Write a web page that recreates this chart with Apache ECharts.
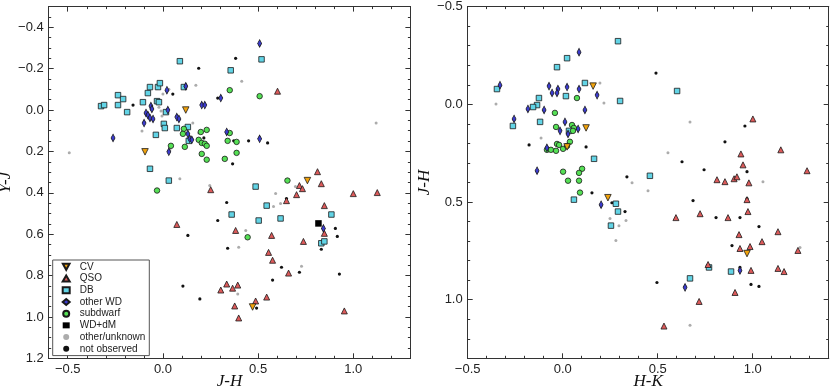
<!DOCTYPE html>
<html>
<head>
<meta charset="utf-8">
<script src="https://cdn.jsdelivr.net/npm/echarts@6/dist/echarts.min.js"></script>
<style>
html, body { margin: 0; padding: 0; background: #fff; }
#chart { width: 830px; height: 391px; }
</style>
</head>
<body>
<div id="chart"></div>
<script>
// Left panel: [J-H, Y-J]
var cvLeft = [[0.120, 0.000], [-0.094, 0.202], [0.759, 0.341], [0.471, 0.952]];
var qsoLeft = [[0.602, -0.091], [0.812, 0.298], [0.832, 0.356], [0.717, 0.365], [0.733, 0.380], [0.702, 0.409],
    [1.000, 0.404], [1.126, 0.399], [0.251, 0.385], [0.073, 0.553], [0.382, 0.582], [0.571, 0.606], [0.649, 0.438],
    [0.555, 0.688], [0.576, 0.726], [0.660, 0.788], [0.848, 0.462], [0.848, 0.596], [0.738, 0.635], [0.335, 0.841],
    [0.304, 0.870], [0.366, 0.861], [0.393, 0.846], [0.377, 0.947], [0.487, 0.923], [0.545, 0.904], [0.398, 1.005],
    [0.953, 0.971]];
var dbLeft = [[-0.325, -0.019], [-0.309, -0.024], [-0.236, -0.072], [-0.209, -0.053], [-0.236, -0.024], [-0.188, 0.010],
    [-0.105, -0.038], [-0.079, -0.082], [-0.068, -0.111], [-0.026, -0.111], [-0.016, -0.130], [-0.031, -0.043],
    [-0.021, -0.038], [0.016, 0.010], [0.005, 0.067], [0.010, 0.087], [0.073, 0.087], [0.131, 0.082], [0.136, 0.149],
    [-0.037, 0.120], [0.089, -0.236], [0.110, -0.111], [0.356, -0.192], [0.518, -0.245], [-0.068, 0.284],
    [0.031, 0.341], [0.487, 0.370], [0.545, 0.462], [0.361, 0.505], [0.503, 0.534], [0.618, 0.524], [0.885, 0.505],
    [0.832, 0.644], [0.848, 0.635]];
var otherWdLeft = [[-0.262, 0.135], [-0.063, -0.019], [-0.058, -0.005], [-0.089, 0.014], [-0.079, 0.024], [-0.068, 0.038],
    [-0.052, 0.043], [-0.099, 0.063], [0.021, -0.096], [0.026, 0.000], [0.073, 0.034], [0.084, 0.043], [0.120, -0.115],
    [0.131, 0.115], [0.141, 0.139], [0.152, 0.144], [0.204, -0.024], [0.220, -0.024], [0.304, -0.058], [0.335, 0.106],
    [0.508, -0.322], [0.508, 0.139], [0.031, 0.202], [0.843, 0.572]];
var subdwarfLeft = [[0.351, -0.096], [0.508, -0.067], [0.110, 0.091], [0.230, 0.096], [0.199, 0.106], [0.105, 0.115],
    [0.188, 0.144], [0.204, 0.159], [0.220, 0.163], [0.230, 0.173], [0.340, 0.149], [0.387, 0.154], [0.042, 0.173],
    [0.115, 0.178], [0.204, 0.212], [0.230, 0.240], [0.325, 0.236], [0.387, 0.207], [0.351, 0.111], [0.654, 0.341],
    [-0.031, 0.389], [0.445, 0.615]];
var wdDmLeft = [[0.817, 0.548]];
var unknownLeft = [[-0.492, 0.207], [0.173, -0.120], [0.031, -0.101], [0.000, -0.077], [-0.021, -0.014], [-0.010, 0.005],
    [-0.005, 0.029], [0.157, 0.063], [-0.110, 0.101], [0.188, 0.111], [0.089, 0.332], [0.414, -0.139], [1.120, 0.063],
    [0.246, 0.365], [0.592, 0.404], [0.696, 0.370], [0.435, 0.582], [0.398, 0.663], [0.618, 0.452], [0.581, 0.466],
    [0.728, 0.755], [0.393, 0.889], [0.037, 0.192]];
var notObsLeft = [[0.188, -0.202], [-0.031, -0.106], [0.052, -0.077], [-0.157, -0.024], [0.215, 0.135], [0.382, -0.250],
    [0.288, -0.058], [0.450, 0.149], [0.550, 0.159], [0.372, 0.149], [0.366, 0.260], [0.649, 0.428], [0.131, 0.606],
    [0.105, 0.851], [0.194, 0.913], [0.335, 0.447], [0.288, 0.534], [0.340, 0.668], [0.623, 0.760], [0.576, 0.822],
    [0.717, 0.784], [0.906, 0.572], [0.916, 0.611], [0.832, 0.673], [0.927, 0.793], [0.492, 0.957]];

// Right panel: [H-K, J-H]
var cvRight = [[0.160, -0.093], [0.123, 0.121], [0.023, 0.218], [0.238, 0.478], [0.970, 0.764]];
var qsoRight = [[1.001, 0.075], [1.148, 0.233], [0.938, 0.254], [0.949, 0.310], [0.812, 0.386], [0.854, 0.396],
    [0.902, 0.381], [0.917, 0.371], [0.980, 0.402], [1.286, 0.340], [0.970, 0.488], [0.975, 0.549], [0.596, 0.580],
    [0.723, 0.560], [0.870, 0.580], [1.133, 0.652], [0.928, 0.667], [1.049, 0.703], [0.933, 0.738], [0.986, 0.728],
    [1.238, 0.748], [0.765, 0.820], [0.991, 0.850], [1.133, 0.840], [1.165, 0.856], [0.907, 0.963], [0.718, 1.009],
    [0.533, 1.135]];
var dbRight = [[-0.346, -0.078], [0.023, -0.236], [-0.030, -0.190], [-0.125, -0.032], [-0.135, 0.004], [-0.156, 0.014],
    [-0.119, 0.090], [-0.262, 0.111], [0.117, -0.109], [0.017, -0.042], [0.033, 0.136], [0.291, -0.323], [0.302, -0.017],
    [0.602, -0.068], [0.459, 0.366], [0.165, 0.279], [0.059, 0.488], [0.280, 0.509], [0.291, 0.549], [0.254, 0.621],
    [0.670, 0.891], [0.770, 0.835], [0.886, 0.856]];
var otherWdRight = [[-0.330, -0.098], [0.086, -0.267], [-0.072, -0.093], [-0.056, -0.058], [-0.025, -0.078], [-0.030, -0.058],
    [0.023, -0.088], [0.086, -0.078], [0.181, -0.047], [-0.183, 0.024], [-0.098, 0.029], [0.117, 0.029], [-0.256, 0.075],
    [0.012, 0.090], [-0.014, 0.136], [0.081, 0.126], [0.028, 0.152], [-0.083, 0.223], [-0.135, 0.340], [0.202, 0.514],
    [0.644, 0.937], [0.933, 0.850]];
var subdwarfRight = [[0.075, -0.032], [-0.041, 0.044], [-0.035, 0.116], [0.049, 0.106], [0.059, 0.121], [0.054, 0.136],
    [-0.030, 0.203], [-0.019, 0.208], [-0.083, 0.233], [-0.062, 0.233], [-0.035, 0.238], [0.002, 0.228], [0.023, 0.213],
    [0.038, 0.192], [0.002, 0.345], [0.102, 0.330], [0.086, 0.351], [0.028, 0.391], [0.086, 0.391], [0.091, 0.452]];
var unknownRight = [[-0.351, -0.002], [-0.114, 0.172], [0.196, -0.109], [0.217, -0.007], [0.554, 0.248], [0.365, 0.402],
    [0.449, 0.442], [0.249, 0.585], [0.333, 0.595], [0.296, 0.621], [0.280, 0.697], [0.670, 0.090], [1.054, 0.396],
    [1.249, 0.733], [0.670, 1.131]];
var notObsRight = [[-0.177, 0.208], [0.123, 0.218], [0.338, 0.371], [0.154, 0.453], [0.259, 0.504], [0.328, 0.549],
    [0.491, -0.160], [0.959, 0.111], [0.854, 0.192], [0.628, 0.294], [0.744, 0.335], [0.970, 0.345], [0.970, 0.483],
    [0.686, 0.493], [0.807, 0.580], [0.933, 0.580], [1.033, 0.626], [0.891, 0.723], [0.933, 0.835], [0.496, 0.912],
    [0.991, 0.922], [1.033, 0.932]];

// Tick labels
var leftXLabels = [-0.5, 0.0, 0.5, 1.0];
var leftYLabels = [-0.4, -0.2, 0.0, 0.2, 0.4, 0.6, 0.8, 1.0, 1.2];
var rightXLabels = [-0.5, 0.0, 0.5, 1.0];
var rightYLabels = [-0.5, 0.0, 0.5, 1.0];

function steps(a, b, step) {
    var out = [];
    var n = Math.round((b - a) / step);
    for (var i = 0; i <= n; i++) out.push(+(a + i * step).toFixed(3));
    return out;
}
var leftXMinor = steps(-0.6, 1.3, 0.1);
var leftYMinor = steps(-0.5, 1.2, 0.05);
var rightXMinor = steps(-0.5, 1.4, 0.1);
var rightYMinor = steps(-0.5, 1.3, 0.1);

var axisColor = '#333';
var nameStyle = {
    fontFamily: 'Liberation Serif',
    fontStyle: 'italic',
    fontSize: 17,
    color: '#111'
};

function fmt(v) {
    return (v < -1e-9 ? '\u2212' : '') + Math.abs(v).toFixed(1);
}

function makeAxis(grid, pos, min, max, inverse, ticks, len, labels, name, nameGap) {
    return {
        type: 'value',
        gridIndex: grid,
        position: pos,
        min: min,
        max: max,
        inverse: inverse,
        splitLine: { show: false },
        axisLine: { show: true, onZero: false, lineStyle: { color: axisColor, width: 1 } },
        axisTick: { show: true, inside: true, length: len, customValues: ticks, lineStyle: { color: axisColor, width: 1 } },
        axisLabel: labels ? {
            show: true,
            customValues: labels,
            formatter: fmt,
            margin: 5,
            color: '#222',
            fontSize: 13,
            fontFamily: 'Liberation Sans'
        } : { show: false },
        name: name || '',
        nameLocation: 'middle',
        nameGap: nameGap || 0,
        nameMoveOverlap: (pos === 'left' || pos === 'right'),
        nameTextStyle: nameStyle
    };
}

var xAxes = [
    makeAxis(0, 'bottom', -0.6, 1.3, false, leftXLabels, 5, leftXLabels, 'J-H', 15),
    makeAxis(1, 'bottom', -0.5, 1.4, false, rightXLabels, 5, rightXLabels, 'H-K', 15),
    makeAxis(0, 'bottom', -0.6, 1.3, false, leftXMinor, 2.5),
    makeAxis(0, 'top', -0.6, 1.3, false, leftXLabels, 5),
    makeAxis(0, 'top', -0.6, 1.3, false, leftXMinor, 2.5),
    makeAxis(1, 'bottom', -0.5, 1.4, false, rightXMinor, 2.5),
    makeAxis(1, 'top', -0.5, 1.4, false, rightXLabels, 5),
    makeAxis(1, 'top', -0.5, 1.4, false, rightXMinor, 2.5)
];
var yAxes = [
    makeAxis(0, 'left', -0.5, 1.2, true, leftYLabels, 5, leftYLabels, 'Y-J', 34),
    makeAxis(1, 'left', -0.5, 1.3, true, rightYLabels, 5, rightYLabels, 'J-H', 33),
    makeAxis(0, 'left', -0.5, 1.2, true, leftYMinor, 2.5),
    makeAxis(0, 'right', -0.5, 1.2, true, leftYLabels, 5),
    makeAxis(0, 'right', -0.5, 1.2, true, leftYMinor, 2.5),
    makeAxis(1, 'left', -0.5, 1.3, true, rightYMinor, 2.5),
    makeAxis(1, 'right', -0.5, 1.3, true, rightYLabels, 5),
    makeAxis(1, 'right', -0.5, 1.3, true, rightYMinor, 2.5)
];

// Marker styles per class
var styles = {
    'CV':            { symbol: 'triangle', size: 6.5, color: '#f0a20c', border: true, rotate: 180 },
    'QSO':           { symbol: 'triangle', size: 6, color: '#dd5a5a', border: true },
    'DB':            { symbol: 'rect', size: 5.5, color: '#62d4e6', border: true },
    'other WD':      { symbol: 'diamond', size: [4, 7.5], color: '#3b3bd0', border: true },
    'subdwarf':      { symbol: 'circle', size: 5.5, color: '#55e055', border: true },
    'WD+dM':         { symbol: 'rect', size: 6.5, color: '#000000', border: false },
    'other/unknown': { symbol: 'circle', size: 3, color: '#acacac', border: false },
    'not observed':  { symbol: 'circle', size: 3.2, color: '#111111', border: false }
};

function sc(name, data, axisIndex, z) {
    var s = styles[name];
    return {
        name: name,
        type: 'scatter',
        xAxisIndex: axisIndex,
        yAxisIndex: axisIndex,
        data: data,
        symbol: s.symbol,
        symbolSize: s.size,
        symbolRotate: s.rotate || 0,
        z: z,
        itemStyle: {
            color: s.color,
            borderColor: s.border ? '#1a1a1a' : s.color,
            borderWidth: s.border ? 0.8 : 0,
            opacity: 1
        },
        emphasis: { disabled: true },
        animation: false
    };
}

var series = [
    sc('other/unknown', unknownLeft, 0, 2),
    sc('not observed', notObsLeft, 0, 2),
    sc('DB', dbLeft, 0, 3),
    sc('QSO', qsoLeft, 0, 3),
    sc('subdwarf', subdwarfLeft, 0, 3),
    sc('other WD', otherWdLeft, 0, 4),
    sc('CV', cvLeft, 0, 4),
    sc('WD+dM', wdDmLeft, 0, 4),
    sc('other/unknown', unknownRight, 1, 2),
    sc('not observed', notObsRight, 1, 2),
    sc('DB', dbRight, 1, 3),
    sc('QSO', qsoRight, 1, 3),
    sc('subdwarf', subdwarfRight, 1, 3),
    sc('other WD', otherWdRight, 1, 4),
    sc('CV', cvRight, 1, 4)
];

var chart = echarts.init(document.getElementById('chart'), null, { renderer: 'canvas' });
chart.setOption({
    backgroundColor: '#fff',
    animation: false,
    grid: [
        { left: 48.7, top: 6.6, width: 361.7, height: 351.7, outerBoundsMode: 'none', containLabel: false },
        { left: 467.7, top: 6.6, width: 361, height: 351.7, outerBoundsMode: 'none', containLabel: false }
    ],
    xAxis: xAxes,
    yAxis: yAxes,
    legend: {
        orient: 'vertical',
        left: 52.7,
        top: 260,
        padding: [1, 4, 1, 9],
        itemGap: 0,
        itemWidth: 7,
        itemHeight: 6,
        backgroundColor: '#fff',
        borderColor: '#555',
        borderWidth: 1,
        borderRadius: 0,
        selectedMode: false,
        textStyle: { fontSize: 10, lineHeight: 11.7, padding: [0, 0, 0, 5], color: '#222', fontFamily: 'Liberation Sans' },
        data: [
            { name: 'CV', icon: 'path://M0,0L10,0L5,9Z' },
            'QSO', 'DB', 'other WD', 'subdwarf', 'WD+dM', 'other/unknown', 'not observed'
        ]
    },
    series: series
});
</script>
</body>
</html>
